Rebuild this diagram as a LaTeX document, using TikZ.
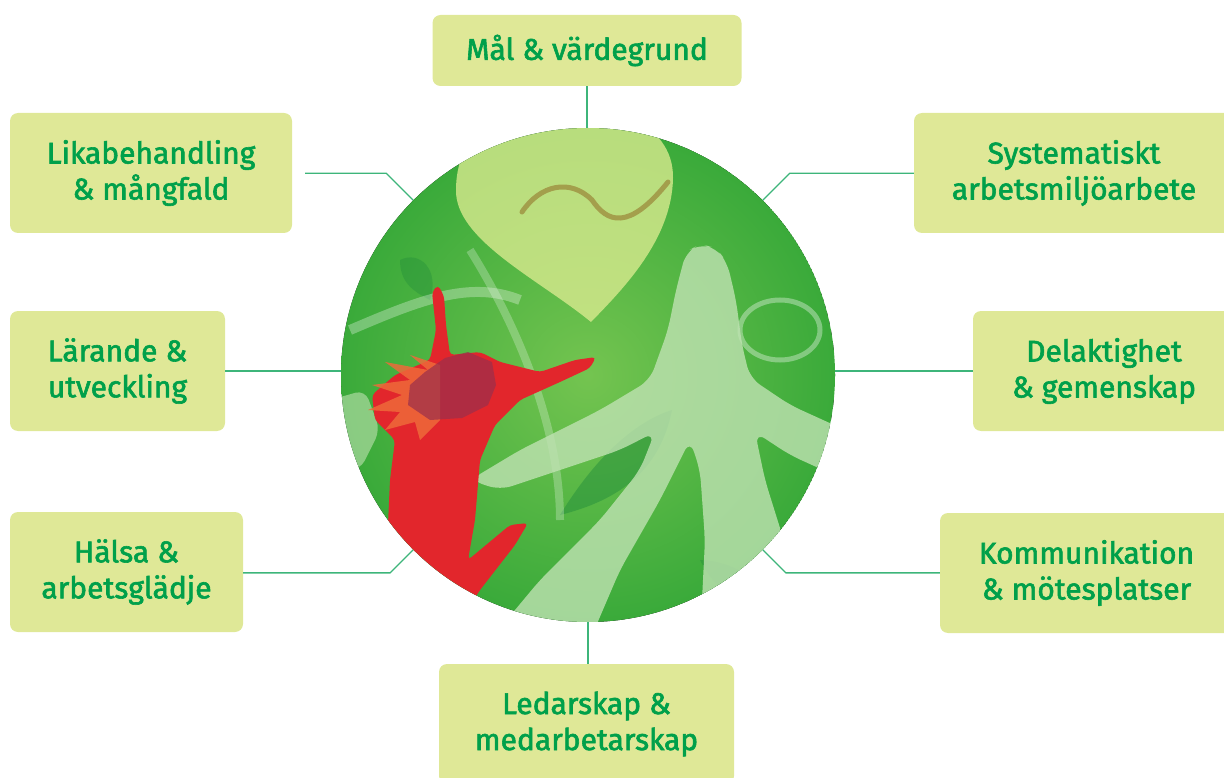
\documentclass[tikz,border=0pt]{standalone}
\usepackage{fontspec}
\setmainfont{Fira Sans}
\newfontfamily\boxfont{Fira Sans}[FakeBold=2]
\usetikzlibrary{calc}
\definecolor{boxfill}{HTML}{DFE897}
\definecolor{txtgreen}{HTML}{00A04A}
\definecolor{linegreen}{HTML}{3DB57A}
\definecolor{gin}{HTML}{74C450}
\definecolor{gout}{HTML}{3AAA3A}
\definecolor{heartc}{HTML}{D8EA8E}
\definecolor{handc}{HTML}{BFE2B2}
\definecolor{redc}{HTML}{E2262C}
\definecolor{hairc}{HTML}{9A2F4C}
\definecolor{orangec}{HTML}{EE6A3A}
\definecolor{darkleaf}{HTML}{1F8A3A}
\definecolor{brownc}{HTML}{9C8A3C}
\begin{document}
\begin{tikzpicture}[x=1pt,y=-1pt,
  box/.style={fill=boxfill, rounded corners=8pt, text=txtgreen, align=center,
    font=\boxfont\fontsize{30}{36}\selectfont, inner sep=0pt},
  conn/.style={draw=linegreen, line width=1.4pt},
  hubnode/.style={circle, minimum size=494pt, inner sep=0pt}]
\useasboundingbox (0,0) rectangle (1224,778);

% hub picture
\node[hubnode] (hub) at (588,375) {};
\begin{scope}
  \clip (588,375) circle (247pt);
  \fill[inner color=gin, outer color=gout] (588,375) circle (247pt);
  % dark leaves
  \fill[darkleaf, opacity=.45] (560,515) .. controls (600,450) and (640,420) .. (672,410) .. controls (660,470) and (620,500) .. cycle;
  \fill[darkleaf, opacity=.35] (400,260) .. controls (420,250) and (440,270) .. (430,300) .. controls (410,290) and (400,280) .. cycle;
  \fill[darkleaf, opacity=.35] (700,560) .. controls (720,600) and (760,620) .. (800,610) .. controls (760,580) and (730,560) .. cycle;
  % heart
  \fill[heartc, opacity=.8] (591,322) .. controls (540,280) and (455,240) .. (456,190)
     .. controls (456,140) and (490,112) .. (525,112)
     .. controls (550,112) and (565,115) .. (575,120)
     .. controls (600,100) and (674,120) .. (673,178)
     .. controls (672,240) and (622,290) .. cycle;
  \draw[brownc, line width=5pt, line cap=round, opacity=.75] (522,212) .. controls (540,185) and (570,178) .. (592,200)
     .. controls (607,222) and (628,232) .. (668,182);
  % pale ring and swooshes
  \draw[white, opacity=.35, line width=5pt] (780,330) ellipse (40pt and 30pt);
  \draw[white, opacity=.3, line width=10pt] (350,330) .. controls (420,300) and (470,280) .. (520,300);
  \draw[white, opacity=.25, line width=8pt] (470,250) .. controls (520,330) and (560,430) .. (560,520);
  % hands
  \fill[handc, opacity=.8, rounded corners=12pt] (686,252) -- (700,244) -- (716,248) -- (727,262) -- (736,300) -- (742,345)
    -- (750,378) -- (790,405) -- (845,430) -- (845,480) -- (790,455) -- (755,432) -- (765,480) -- (790,560)
    -- (805,640) -- (700,640) -- (705,540) -- (700,470) -- (690,440) -- (660,500) -- (620,570) -- (590,640)
    -- (490,640) -- (540,580) -- (600,520) -- (640,470) -- (655,432) -- (620,450) -- (560,470) -- (500,490)
    -- (470,480) -- (520,450) -- (600,410) -- (650,380) -- (668,330) -- (676,290) -- cycle;
  \fill[handc, opacity=.6, rounded corners=10pt] (330,400) -- (365,390) -- (380,430) -- (360,470) -- (330,470) -- cycle;
  % red figure
  \fill[redc, rounded corners=4pt] (432,292) -- (438,285) -- (444,296) -- (446,325) -- (450,355) -- (480,352)
    -- (500,362) -- (540,372) -- (575,360) -- (596,357) -- (590,368) -- (560,382) -- (520,400) -- (495,425)
    -- (480,460) -- (475,520) -- (468,560) -- (510,525) -- (528,523) -- (515,545) -- (480,590) -- (460,620)
    -- (400,630) -- (385,590) -- (390,480) -- (395,440) -- (375,420) -- (372,395) -- (395,375) -- (430,360)
    -- (436,330) -- cycle;
  % hair
  \fill[orangec, opacity=.85] (440,365) -- (410,355) -- (428,370) -- (385,362) -- (410,380) -- (372,385)
    -- (402,395) -- (368,410) -- (400,412) -- (385,430) -- (415,422) -- (420,440) -- (440,420) -- cycle;
  \fill[hairc, opacity=.7] (425,372) -- (445,358) -- (468,352) -- (492,362) -- (496,385) -- (488,405)
    -- (462,418) -- (430,420) -- (408,405) -- (410,385) -- cycle;
\end{scope}

% boxes
\node[box, minimum width=309pt, minimum height=71pt] (mal) at (587,50.5) {Mål \& värdegrund};
\node[box, minimum width=282pt, minimum height=120pt] (lika) at (151,173) {Likabehandling\\\& mångfald};
\node[box, minimum width=320pt, minimum height=120pt] (syst) at (1074,173) {Systematiskt\\arbetsmiljöarbete};
\node[box, minimum width=215pt, minimum height=120pt] (lar) at (117.5,371) {Lärande \&\\utveckling};
\node[box, minimum width=262pt, minimum height=120pt] (delak) at (1104,371) {Delaktighet\\\& gemenskap};
\node[box, minimum width=233pt, minimum height=120pt] (halsa) at (126.5,572) {Hälsa \&\\arbetsglädje};
\node[box, minimum width=293pt, minimum height=120pt] (komm) at (1086.5,573) {Kommunikation\\\& mötesplatser};
\node[box, minimum width=295pt, minimum height=120pt] (led) at (586.5,724) {Ledarskap \&\\medarbetarskap};

% connectors
\draw[conn] (mal.south) -- (mal.south |- hub.north);
\draw[conn] (hub.south) -- (hub.south |- led.north);
\coordinate (c1) at ($(hub.135)+(-27,-27)$);
\coordinate (s1) at ($(c1)+(-81,0)$);
\draw[conn] (s1) -- (c1) -- (hub.135);
\coordinate (c2) at ($(hub.45)+(27,-27)$);
\draw[conn] (c2 -| syst.west) -- (c2) -- (hub.45);
\draw[conn] (lar.east) -- (lar.east -| hub.west);
\draw[conn] (delak.west) -- (delak.west -| hub.east);
\coordinate (c3) at ($(hub.225)+(-23,23)$);
\draw[conn] (c3 -| halsa.east) -- (c3) -- (hub.225);
\coordinate (c4) at ($(hub.315)+(23,23)$);
\draw[conn] (c4 -| komm.west) -- (c4) -- (hub.315);
\end{tikzpicture}
\end{document}
